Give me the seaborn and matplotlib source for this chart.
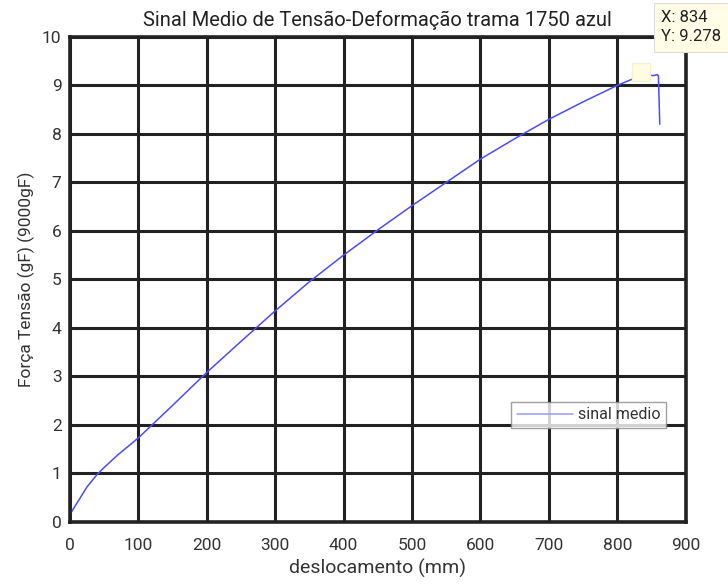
import numpy as np
import pandas as pd
import matplotlib
matplotlib.use("Agg")
import matplotlib.pyplot as plt
import seaborn as sns

# dados
deslocamento = [0, 10, 25, 40, 50, 70, 100, 150, 200, 250, 300, 350, 400, 450,
                500, 550, 600, 650, 700, 750, 800, 834, 845, 852, 858, 860, 862]
forca = [0.15, 0.38, 0.72, 0.98, 1.12, 1.38, 1.73, 2.4, 3.08, 3.72, 4.35, 4.95,
         5.5, 6.02, 6.52, 7.0, 7.48, 7.9, 8.3, 8.66, 9.0, 9.2, 9.22, 9.2, 9.22, 9.2, 8.2]
tip_x, tip_y = 834, 9.278

df = pd.DataFrame({'deslocamento': deslocamento, 'forca': forca})

sns.set_style('white')
plt.rcParams['font.family'] = ['Roboto', 'DejaVu Sans']

fig = plt.figure(figsize=(7.28, 5.85), dpi=100)
ax = fig.add_axes([0.096, 0.108, 0.846, 0.829])

sns.lineplot(data=df, x='deslocamento', y='forca', ax=ax, color='#4b4bff',
             linewidth=1.1, sort=False, label='sinal medio')

ax.set_xlim(0, 900)
ax.set_ylim(0, 10)
ax.set_xticks(np.arange(0, 901, 100))
ax.set_yticks(np.arange(0, 11, 1))
ax.grid(True, color='#222222', linewidth=2.2)
ax.tick_params(axis='x', length=0, labelsize=12.5, colors='#333333', pad=12)
ax.tick_params(axis='y', length=0, labelsize=12.5, colors='#333333', pad=6)
for s in ax.spines.values():
    s.set_color('#222222')
    s.set_linewidth(2.6)

ax.set_xlabel('deslocamento (mm)', fontsize=14, color='#333333', labelpad=4)
ax.set_ylabel('Força Tensão (gF) (9000gF)', fontsize=12.5, color='#333333', labelpad=5)
ax.set_title('Sinal Medio de Tensão-Deformação trama 1750 azul', fontsize=14.5,
             color='#222222', pad=8)

# datatip
ax.plot([tip_x], [tip_y], marker='s', markersize=13, color='#fffde0',
        markeredgecolor='#f4f2d0', zorder=5)
ax.annotate(f'X: {tip_x}\nY: {tip_y}', xy=(tip_x, tip_y), xytext=(661, 575),
            xycoords='data', textcoords='figure pixels', fontsize=12,
            color='#222222', va='top', ha='left', annotation_clip=False,
            linespacing=1.35,
            bbox=dict(boxstyle='square,pad=0.45', fc='#fffde6', ec='#dddddd', lw=0.8))

leg = ax.legend(loc='lower left', bbox_to_anchor=(0.717, 0.194), fontsize=11.5,
                frameon=True, fancybox=False, handlelength=3.5, handletextpad=0.3,
                borderpad=0.35, borderaxespad=0)
leg.get_frame().set_edgecolor('#888888')
leg.get_frame().set_linewidth(1)
for t in leg.get_texts():
    t.set_color('#333333')
leg.get_lines()[0].set_color('#9a9aff')

fig.savefig('out.png', dpi=100)
